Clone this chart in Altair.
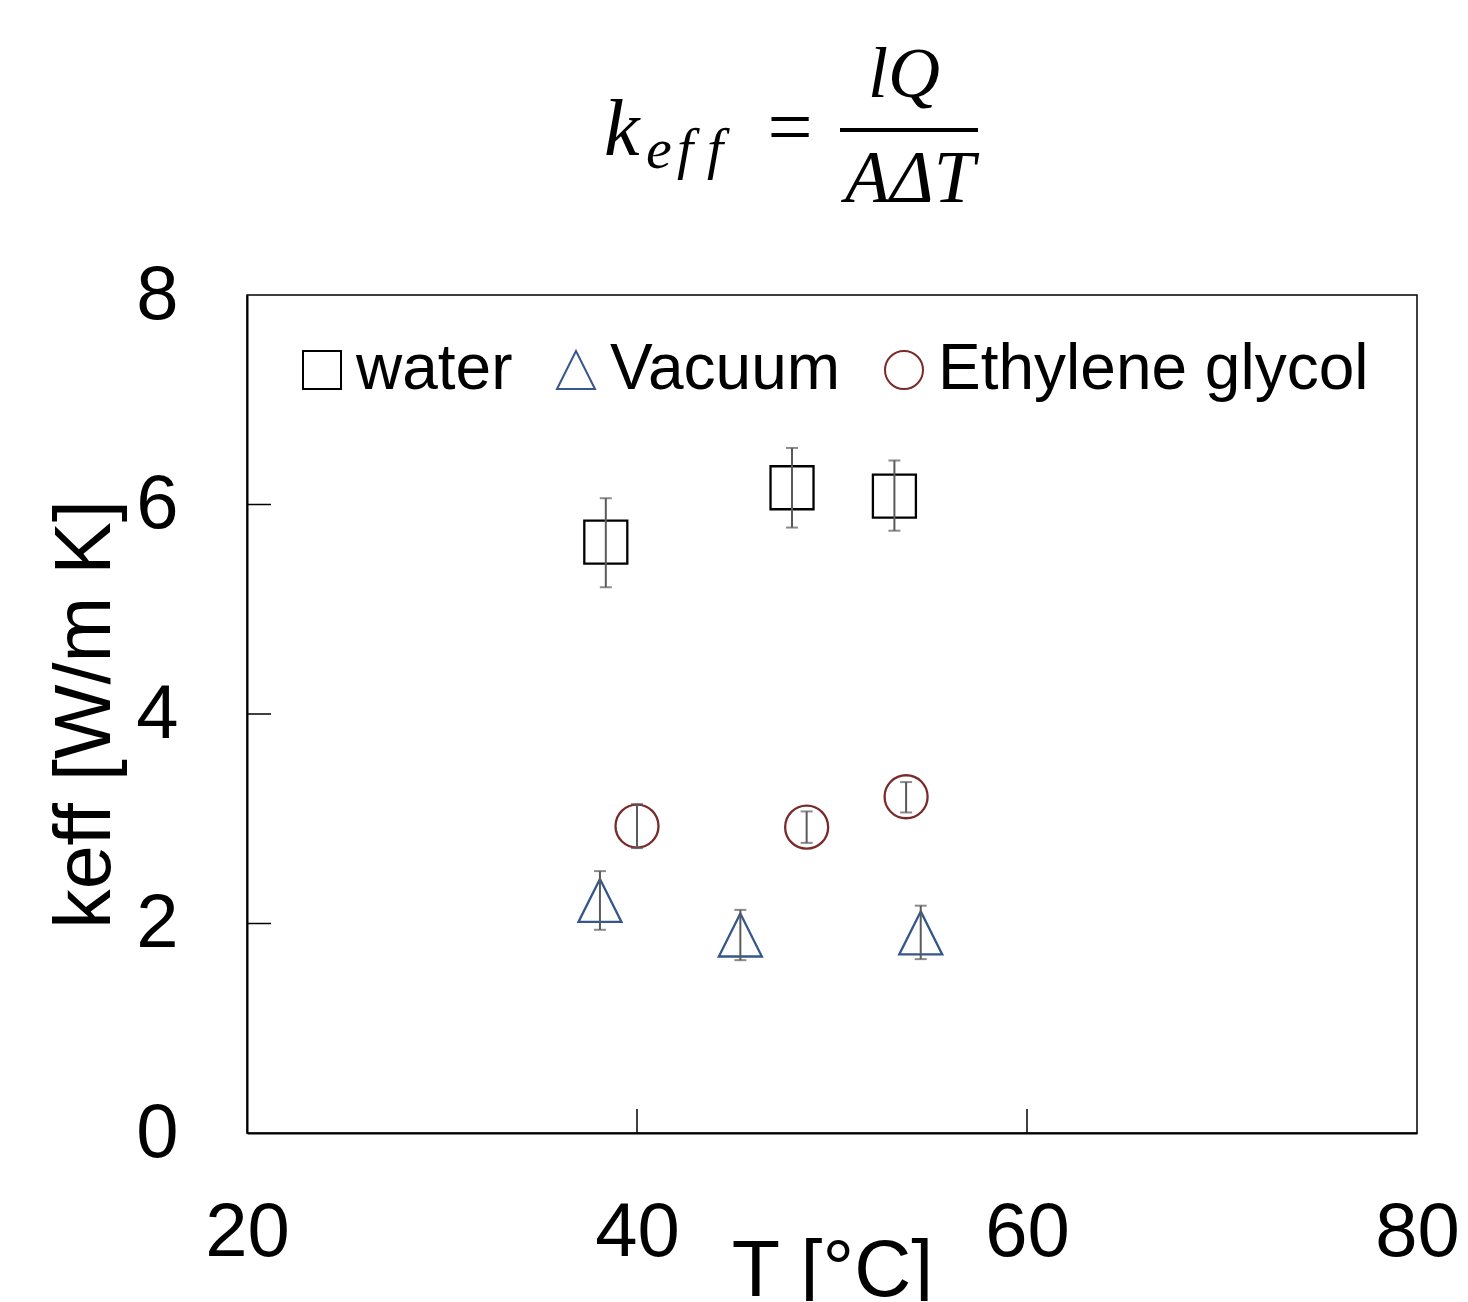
import altair as alt
import pandas as pd

series = ["water", "Vacuum", "Ethylene glycol"]
shapes = ["square", "M0,-1L-1,1L1,1Z", "circle"]
colors = ["#000000", "#35578a", "#7a2a2a"]

water_T = [38.4, 47.95, 53.2]
water_k = [5.64, 6.16, 6.08]
water_lo = [5.21, 5.78, 5.75]
water_hi = [6.06, 6.54, 6.42]

vac_T = [38.1, 45.3, 54.55]
vac_k = [2.22, 1.89, 1.91]
vac_lo = [1.94, 1.65, 1.66]
vac_hi = [2.50, 2.13, 2.17]

eg_T = [40.0, 48.7, 53.8]
eg_k = [2.93, 2.92, 3.21]
eg_lo = [2.72, 2.77, 3.06]
eg_hi = [3.14, 3.07, 3.35]

x_ticks = [20, 40, 60, 80]
y_ticks = [0, 2, 4, 6, 8]
x_inner_ticks = [40, 60]
y_inner_ticks = [2, 4, 6]

XT = "T [°C]"
YT = "keff [W/m K]"

rows = []
for name, T, k, lo, hi in [
    ("water", water_T, water_k, water_lo, water_hi),
    ("Vacuum", vac_T, vac_k, vac_lo, vac_hi),
    ("Ethylene glycol", eg_T, eg_k, eg_lo, eg_hi),
]:
    for i in range(len(T)):
        rows.append(dict(series=name, T=T[i], k=k[i], lo=lo[i], hi=hi[i]))
df = pd.DataFrame(rows)

W, H = 1170, 838
xs = alt.Scale(domain=[20, 80], nice=False, zero=False)
ys = alt.Scale(domain=[0, 8], nice=False, zero=False)

xaxis = alt.Axis(values=x_ticks, ticks=False, grid=False, labelPadding=62, labelFlush=False,
                 format="d",
                 titleX=W / 2, titleY=162, titleBaseline="alphabetic", titleAlign="center")
yaxis = alt.Axis(values=y_ticks, ticks=False, grid=False, labelPadding=69, labelFlush=False,
                 format="d",
                 titleX=-138, titleY=H / 2, titleBaseline="alphabetic", titleAlign="center",
                 titleAngle=-90)

leg = alt.Legend(title=None, orient="none", legendX=43, legendY=43, direction="horizontal",
                 columns=3)

base = alt.Chart(df)

points = base.mark_point(filled=False, size=1849, strokeWidth=2.3, opacity=1).encode(
    x=alt.X("T:Q", scale=xs, axis=xaxis, title=XT),
    y=alt.Y("k:Q", scale=ys, axis=yaxis, title=YT),
    shape=alt.Shape("series:N", scale=alt.Scale(domain=series, range=shapes), legend=leg),
    color=alt.Color("series:N", scale=alt.Scale(domain=series, range=colors), legend=leg),
)

ebar = base.mark_rule(color="#5a5a5a", strokeWidth=2).encode(
    x=alt.X("T:Q", title=XT), y=alt.Y("lo:Q", title=YT), y2="hi:Q"
)
cap_lo = base.mark_tick(color="#5a5a5a", thickness=2, size=12, orient="horizontal").encode(
    x=alt.X("T:Q", title=XT), y=alt.Y("lo:Q", title=YT)
)
cap_hi = base.mark_tick(color="#5a5a5a", thickness=2, size=12, orient="horizontal").encode(
    x=alt.X("T:Q", title=XT), y=alt.Y("hi:Q", title=YT)
)

xt = alt.Chart(pd.DataFrame({"T": x_inner_ticks})).mark_rule(color="black", strokeWidth=1.5).encode(
    x=alt.X("T:Q", title=XT), y=alt.value(H), y2=alt.value(H - 24)
)
yt = alt.Chart(pd.DataFrame({"k": y_inner_ticks})).mark_rule(color="black", strokeWidth=1.5).encode(
    y=alt.Y("k:Q", title=YT), x=alt.value(0), x2=alt.value(24)
)

one = pd.DataFrame({"a": [0]})
serif = "Liberation Serif"


def ftext(txt, x, y, size, align="left"):
    return alt.Chart(one).mark_text(
        text=txt, font=serif, fontStyle="italic", fontSize=size, align=align,
        baseline="alphabetic", color="black"
    ).encode(x=alt.value(x), y=alt.value(y))


f_k = ftext("k", 357, -140, 80)
f_e = ftext("e", 399, -127, 58)
f_f1 = ftext("f", 430, -127, 58)
f_f2 = ftext("f", 460, -127, 58)
f_eq = alt.Chart(one).mark_text(text="=", font=serif, fontSize=80, align="center",
                                baseline="alphabetic", color="black").encode(
    x=alt.value(543), y=alt.value(-141))
f_num = ftext("lQ", 657, -198, 72, align="center")
f_den = ftext("AΔT", 663, -93, 74, align="center")
f_line = alt.Chart(one).mark_rule(color="black", strokeWidth=4).encode(
    x=alt.value(593), x2=alt.value(731), y=alt.value(-165))

chart = alt.layer(
    points, ebar, cap_lo, cap_hi, xt, yt, f_k, f_e, f_f1, f_f2, f_eq, f_num, f_den, f_line
).properties(
    width=W, height=H,
    autosize=alt.AutoSizeParams(type="none"),
    padding={"left": 239, "top": 287, "right": 43, "bottom": 168},
).configure_view(
    stroke="black", strokeWidth=1.5
).configure_axis(
    labelFont="Liberation Sans", labelFontSize=76, labelColor="black",
    titleFont="Liberation Sans", titleFontSize=79, titleColor="black", titleFontWeight="normal",
    domainColor="black", domainWidth=2,
).configure_legend(
    labelFont="Liberation Sans", labelFontSize=64, labelColor="black", labelLimit=1000,
    symbolSize=1444, symbolStrokeWidth=2, labelOffset=2, columnPadding=31, padding=0,
)

chart.save("out.html", embed_options={"renderer": "svg", "actions": False})
